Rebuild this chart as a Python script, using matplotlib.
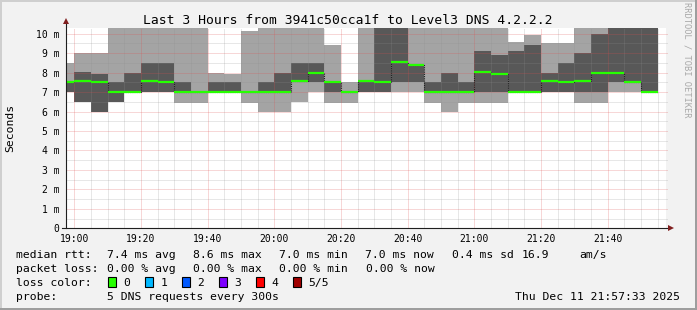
import matplotlib
matplotlib.use("Agg")
import matplotlib.pyplot as plt
from matplotlib.patches import Rectangle
import numpy as np

# ---------------- data (ms) ----------------
# bin edges in minutes relative to 19:00 (graph starts 18:57:33)
bin_starts = [-2.45] + list(range(0, 175, 5))
bin_ends = list(range(0, 180, 5))
# sorted ping results per 5-minute bin: p1 (fastest) .. p5 (slowest)
p1 = [7.0, 6.5, 6.0, 6.5, 7.0, 7.0, 7.0, 6.45, 6.45, 7.0, 7.0, 6.45, 6.0, 6.0, 6.5, 7.0, 6.45, 6.45,
      7.0, 7.0, 7.0, 7.0, 6.45, 6.0, 6.45, 6.45, 6.45, 7.0, 7.0, 7.0, 7.0, 6.45, 6.45, 7.0, 7.0, 7.0]
p2 = [7.0, 6.5, 6.0, 6.5, 7.0, 7.0, 7.0, 7.0, 7.0, 7.0, 7.0, 7.0, 7.0, 7.0, 7.5, 7.5, 7.0, 7.0,
      7.0, 7.0, 7.5, 7.5, 7.0, 7.0, 7.0, 7.0, 7.0, 7.0, 7.0, 7.0, 7.0, 7.0, 7.0, 7.5, 7.5, 7.0]
median = [7.5, 7.55, 7.5, 7.0, 7.0, 7.55, 7.5, 7.0, 7.0, 7.0, 7.0, 7.0, 7.0, 7.0, 7.55, 8.0, 7.5, 7.0,
          7.55, 7.5, 8.55, 8.4, 7.0, 7.0, 7.0, 8.05, 7.95, 7.0, 7.0, 7.55, 7.5, 7.55, 8.0, 8.0, 7.5, 7.0]
p4 = [7.5, 8.05, 7.95, 7.5, 8.0, 8.5, 8.5, 7.5, 7.0, 7.5, 7.5, 7.0, 7.5, 8.0, 8.5, 8.5, 7.5, 7.0,
      7.55, 10.8, 10.8, 8.4, 7.5, 8.0, 7.5, 9.1, 8.9, 9.1, 9.4, 8.0, 8.5, 9.0, 10.0, 10.8, 10.8, 10.8]
p5 = [8.5, 9.0, 9.0, 11.0, 11.0, 11.0, 11.0, 11.0, 11.0, 8.0, 7.95, 10.15, 11.0, 11.0, 11.0, 11.0, 9.4, 7.5,
      11.0, 11.5, 11.5, 11.0, 11.0, 11.0, 11.0, 11.0, 11.0, 9.6, 9.95, 9.5, 9.5, 11.0, 11.0, 11.5, 11.5, 11.5]
loss = [0] * 36  # packets lost per bin

x_tick_pos = [0, 20, 40, 60, 80, 100, 120, 140, 160]
x_tick_labels = ["19:00", "19:20", "19:40", "20:00", "20:20", "20:40", "21:00", "21:20", "21:40"]
y_tick_pos = list(range(0, 11))
y_tick_labels = ["0"] + [f"{i} m" for i in range(1, 11)]

loss_levels = ["0", "1", "2", "3", "4", "5/5"]
loss_colors = ["#26ff00", "#00b8ff", "#0059ff", "#7e00ff", "#ff0000", "#a10000"]

title = "Last 3 Hours from 3941c50cca1f to Level3 DNS 4.2.2.2"
stats_rtt = ["7.4 ms avg", "8.6 ms max", "7.0 ms min", "7.0 ms now", "0.4 ms sd", "16.9", "am/s"]
stats_loss = ["0.00 % avg", "0.00 % max", "0.00 % min", "0.00 % now"]
probe_text = "5 DNS requests every 300s"
date_text = "Thu Dec 11 21:57:33 2025"

# ---------------- figure ----------------
W, H = 697, 310
MONO = "DejaVu Sans Mono"
fig = plt.figure(figsize=(W / 100, H / 100), dpi=100)
fig.patch.set_facecolor("#f2f2f2")

def fx(px):
    return px / W

def fy(py):
    return 1 - py / H

# 3D frame
fig.add_artist(Rectangle((0, fy(2)), 1, 2 / H, transform=fig.transFigure, color="#cfcfcf", lw=0))
fig.add_artist(Rectangle((0, 0), 2 / W, 1, transform=fig.transFigure, color="#cfcfcf", lw=0))
fig.add_artist(Rectangle((0, 0), 1, 2 / H, transform=fig.transFigure, color="#9e9e9e", lw=0))
fig.add_artist(Rectangle((fx(W - 2), 0), 2 / W, 1, transform=fig.transFigure, color="#9e9e9e", lw=0))

ax = fig.add_axes([fx(66), fy(228.3), 600 / W, 200 / H])
ax.set_facecolor("white")
xmin, xmax = -2.45, 177.55
ymax = 10.28
ax.set_xlim(xmin, xmax)
ax.set_ylim(0, ymax)
for s in ax.spines.values():
    s.set_visible(False)

edges = np.array(bin_starts + [bin_ends[-1]], dtype=float)
p1a, p2a, p3a, p4a, p5a = map(np.array, (p1, p2, median, p4, p5))

# smoke
ax.stairs(p5a, edges, baseline=p1a, fill=True, color="#a4a4a4", lw=0, zorder=1)
ax.stairs(p4a, edges, baseline=p2a, fill=True, color="#585858", lw=0, zorder=1.5)

# grid (drawn over smoke like rrdtool)
dot = (0, (1, 1))
minor_x = [m for m in range(0, 180, 5) if m % 20 != 0]
minor_y = [v / 2 for v in range(1, 21) if v % 2 != 0]
ax.vlines(minor_x, 0, ymax, colors=(0.56, 0.56, 0.56, 0.42), linestyles=dot, lw=0.72, zorder=2)
ax.hlines(minor_y, xmin, xmax + 0.7, colors=(0.56, 0.56, 0.56, 0.42), linestyles=dot, lw=0.72,
          zorder=2, clip_on=False)
ax.vlines(x_tick_pos, 0, ymax, colors=(0.87, 0.31, 0.31, 0.45), linestyles=dot, lw=0.72, zorder=2.1)
ax.hlines(y_tick_pos[1:], xmin, xmax + 0.7, colors=(0.87, 0.31, 0.31, 0.45), linestyles=dot, lw=0.72,
          zorder=2.1, clip_on=False)

# median line
ax.stairs(p3a, edges, baseline=None, color="#202020", lw=0.8, linestyle=dot, zorder=2.5)
med_cols = [loss_colors[l] for l in loss]
ax.hlines(p3a, edges[:-1], edges[1:], colors=med_cols, lw=1.6, zorder=3, capstyle="butt")

# axes lines + arrows
ax.plot([0, 0], [0, 1.03], transform=ax.transAxes, color="#1f1f1f", lw=0.8, clip_on=False, zorder=4)
ax.plot([-4 / 600, 1.005], [0, 0], transform=ax.transAxes, color="#1f1f1f", lw=0.8, clip_on=False, zorder=4)
ax.plot([0], [1.035], transform=ax.transAxes, marker="^", ms=4, color="#801f1f", clip_on=False, zorder=5,
        mew=0)
ax.plot([1.008], [0], transform=ax.transAxes, marker=">", ms=4, color="#801f1f", clip_on=False, zorder=5,
        mew=0)

# ticks
ax.set_xticks(x_tick_pos)
ax.set_xticklabels(x_tick_labels, fontfamily=MONO, fontsize=7)
ax.set_yticks(y_tick_pos)
ax.set_yticklabels(y_tick_labels, fontfamily=MONO, fontsize=7)
ax.tick_params(axis="x", length=0, pad=4)
ax.tick_params(axis="y", length=0, pad=4.5)

# texts
fig.text(fx(348), fy(23.5), title, ha="center", va="baseline", fontfamily=MONO, fontsize=9.4)
fig.text(fx(10), fy(128), "Seconds", rotation=90, ha="center", va="center", fontfamily=MONO,
         fontsize=8.2)
fig.text(fx(687), fy(60), "RRDTOOL / TOBI OETIKER", rotation=270, ha="center", va="center",
         fontfamily=MONO, fontsize=6.3, color="#a8a8a8")

FS = 8.2
b1, b2, b3, b4 = 258.3, 272.3, 286.3, 300.3
fig.text(fx(16), fy(b1), "median rtt:", fontfamily=MONO, fontsize=FS, va="baseline")
for xp, s in zip([107, 193, 279, 365, 452, 522, 579], stats_rtt):
    fig.text(fx(xp), fy(b1), s, fontfamily=MONO, fontsize=FS, va="baseline")
fig.text(fx(16), fy(b2), "packet loss:", fontfamily=MONO, fontsize=FS, va="baseline")
for xp, s in zip([107, 193, 279, 366], stats_loss):
    fig.text(fx(xp), fy(b2), s, fontfamily=MONO, fontsize=FS, va="baseline")
fig.text(fx(16), fy(b3), "loss color:", fontfamily=MONO, fontsize=FS, va="baseline")
for i, (lab, col) in enumerate(zip(loss_levels, loss_colors)):
    sx = 108.3 + i * 36.9
    fig.add_artist(Rectangle((fx(sx), fy(286.5)), 8 / W, 9.5 / H, transform=fig.transFigure,
                             facecolor=col, edgecolor="black", lw=0.8))
    fig.text(fx(sx + 15), fy(b3), lab, fontfamily=MONO, fontsize=FS, va="baseline")
fig.text(fx(16), fy(b4), "probe:", fontfamily=MONO, fontsize=FS, va="baseline")
fig.text(fx(107), fy(b4), probe_text, fontfamily=MONO, fontsize=FS, va="baseline")
fig.text(fx(680), fy(b4), date_text, fontfamily=MONO, fontsize=FS, va="baseline", ha="right")

fig.savefig("out.png", dpi=100, facecolor=fig.get_facecolor())
